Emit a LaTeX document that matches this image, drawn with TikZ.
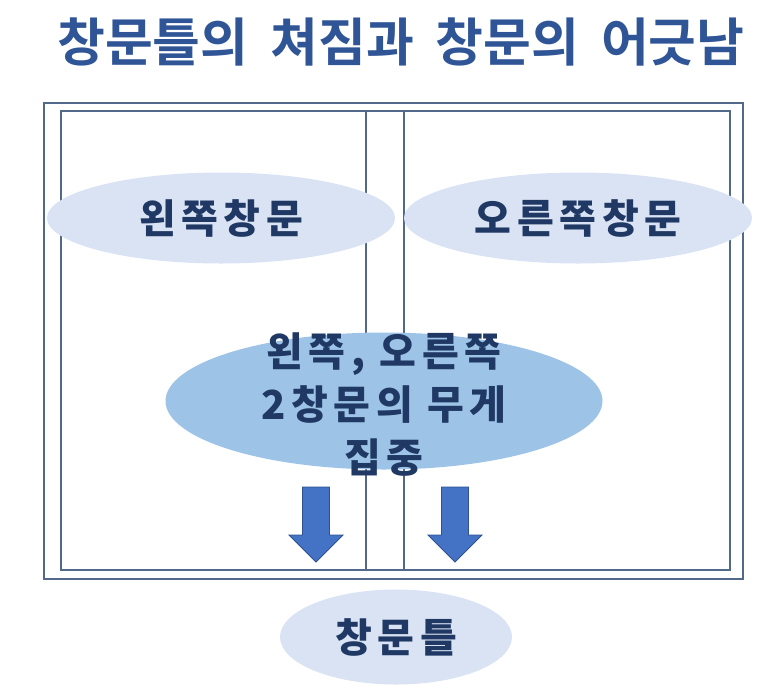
\documentclass[tikz,border=0pt]{standalone}
\usepackage{fontspec}
\setmainfont{Noto Sans CJK KR}
\newfontfamily\titlefont{Noto Sans CJK KR Bold}
\newfontfamily\handfont[LetterSpace=14]{Noto Sans CJK KR Black}
\usetikzlibrary{shapes.geometric, positioning}
\definecolor{titleBlue}{HTML}{2F5597}
\definecolor{frameGray}{HTML}{53698A}
\definecolor{paleBlue}{HTML}{DAE3F3}
\definecolor{midBlue}{HTML}{9DC3E6}
\definecolor{arrowBlue}{HTML}{4472C4}
\definecolor{arrowEdge}{HTML}{2F528F}
\definecolor{inkNavy}{HTML}{1F3864}
\newcommand{\wsp}{\hspace{0.42em}}
\tikzset{
  frame/.style={draw=frameGray, line width=1.3pt},
  paneOval/.style={ellipse, fill=paleBlue, inner sep=0pt, text=inkNavy,
                   font=\handfont\fontsize{40}{44}\selectfont},
  loadOval/.style={ellipse, fill=midBlue, inner sep=0pt},
  loadText/.style={align=center, text=inkNavy,
                   font=\handfont\fontsize{40}{53}\selectfont},
  blockArrow/.style={fill=arrowBlue, draw=arrowEdge, line width=0.8pt},
}
\begin{document}
\begin{tikzpicture}[x=1pt, y=-1pt]
    \useasboundingbox (0,0) rectangle (773,691);
    % title
    \node[text=titleBlue, font=\titlefont\fontsize{52}{56}\selectfont] (title)
      at (401,42) {창문틀의\wsp 쳐짐과\wsp 창문의\wsp 어긋남};
    % window frame
    \draw[frame] (44,103) rectangle (743,579);
    \draw[frame] (61,111) rectangle (730,570);
    \draw[frame] (366,111) rectangle (404,570);
    % panes
    \node[paneOval, minimum width=348pt, minimum height=91pt] (left)
      at (221,218) {왼쪽창문};
    \node[paneOval, minimum width=348pt, minimum height=91pt] (right)
      at (578,218) {오른쪽창문};
    % load in the middle
    \node[loadOval, minimum width=437pt, minimum height=137pt] (load) at (384,401) {};
    \node[loadText] (loadtxt) at (384,405) {왼쪽, 오른쪽\\2창문의 무게\\집중};
    % arrows
    \foreach \cx in {316,455}
      \filldraw[blockArrow] (\cx-13.5,487) -- (\cx+13.5,487) -- (\cx+13.5,535)
        -- (\cx+27,535) -- (\cx,562) -- (\cx-27,535) -- (\cx-13.5,535) -- cycle;
    % frame below
    \node[paneOval, minimum width=232pt, minimum height=95pt] (sill)
      at (396,637) {창문틀};
\end{tikzpicture}
\end{document}
